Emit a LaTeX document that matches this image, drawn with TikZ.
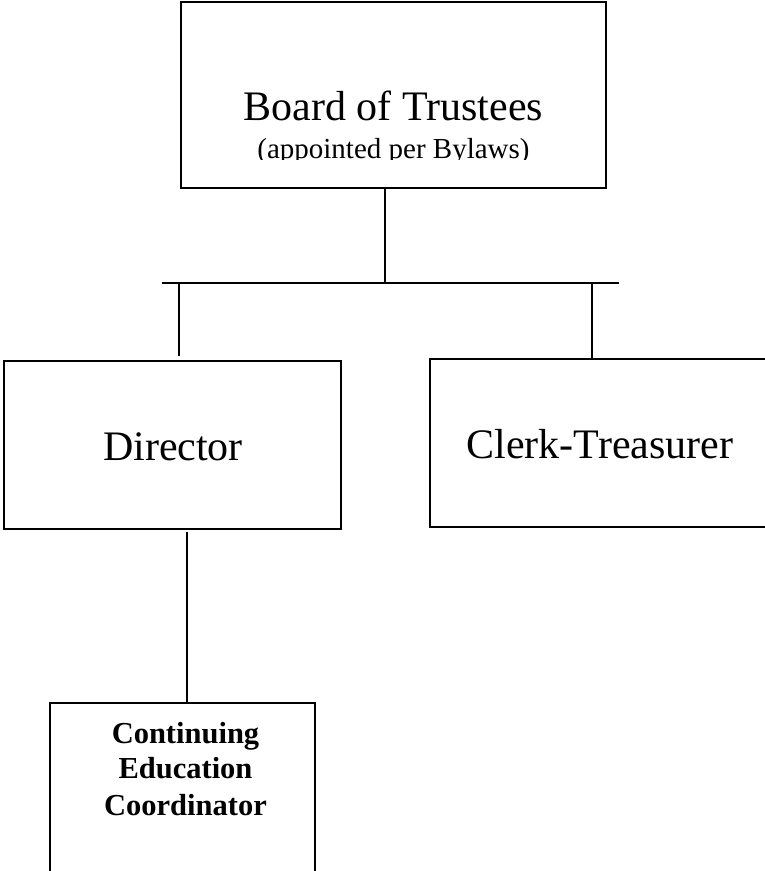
\documentclass[tikz,border=0pt]{standalone}
\usepackage{fontspec}
\setmainfont{Liberation Serif}
\begin{document}
\begin{tikzpicture}[x=1pt,y=-1pt,line width=1.6pt,
  box/.style={draw=black,rectangle,inner sep=0pt,outer sep=0pt},
  bigtext/.style={anchor=base,inner sep=0pt,font=\fontsize{42}{50}\selectfont},
  subtext/.style={anchor=base,inner sep=0pt,font=\fontsize{29}{34}\selectfont},
  boldtext/.style={anchor=base,inner sep=0pt,font=\fontsize{30.5}{36}\selectfont\bfseries},
  conn/.style={draw=black,line width=1.6pt}]
\clip (0,0) rectangle (765,871);
\fill[white] (0,0) rectangle (765,871);
% boxes
\node[box,minimum width=425pt,minimum height=186pt] (board) at (393.5,95) {};
\node[box,minimum width=337pt,minimum height=168pt] (director) at (172.5,445) {};
\node[box,minimum width=340pt,minimum height=168pt] (clerk) at (600,443) {};
\node[box,minimum width=265pt,minimum height=190pt] (coord) at (182.5,798) {};
% texts
\node[bigtext] (boardt) at (393.5,120) {Board of Trustees};
\begin{scope}
\clip (182,0) rectangle (605,159);
\node[subtext] (boards) at (393.5,158) {(appointed per Bylaws)};
\end{scope}
\node[bigtext] (directort) at (173,460) {Director};
\node[bigtext] (clerkt) at (600,458) {Clerk-Treasurer};
\node[boldtext] (c1) at (185.5,743) {Continuing};
\node[boldtext] (c2) at (185.5,778) {Education};
\node[boldtext] (c3) at (185.5,815) {Coordinator};
% connectors
\coordinate (junc) at (385,283);
\coordinate (barL) at (162,283);
\coordinate (barR) at (619,283);
\coordinate (dropL) at (179,283);
\coordinate (dropLend) at (179,356);
\coordinate (dropR) at (592,283);
\coordinate (dstart) at (187,532);
\draw[conn] (junc |- board.south) -- (junc);
\draw[conn] (barL) -- (barR);
\draw[conn] (dropL) -- (dropLend);
\draw[conn] (dropR) -- (dropR |- clerk.north);
\draw[conn] (dstart) -- (dstart |- coord.north);
\end{tikzpicture}
\end{document}
